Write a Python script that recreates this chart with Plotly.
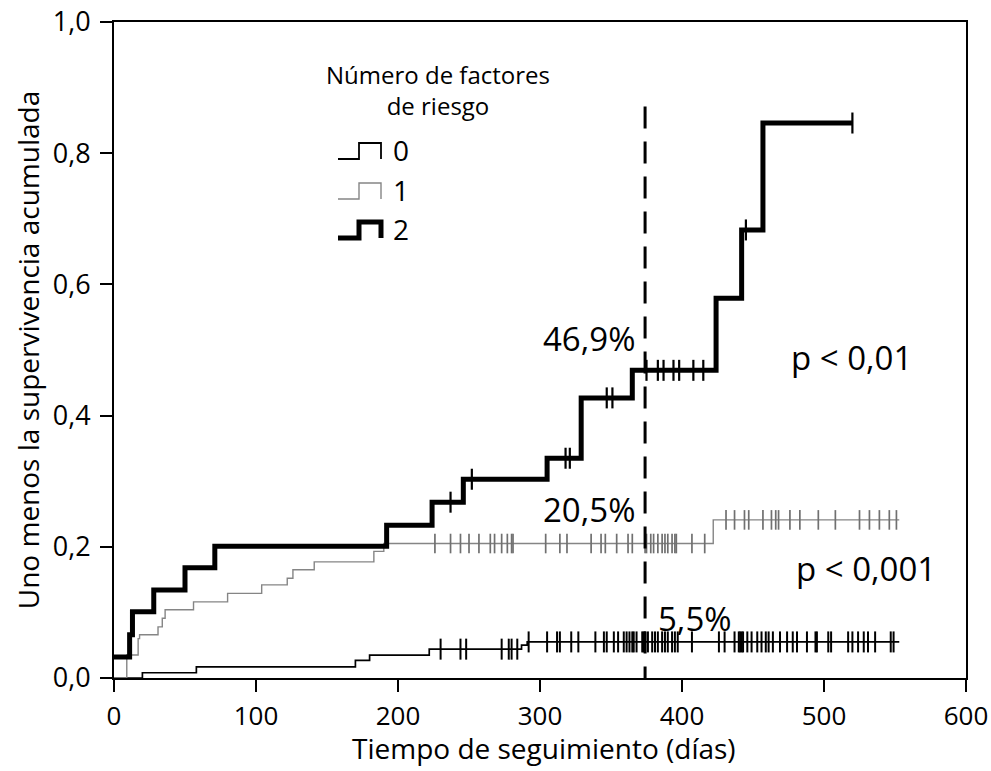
import plotly.graph_objects as go

# ---------------- data ----------------
# Group "0" risk factors : step times (days) and 1 - cumulative survival
t0 = [0, 20, 58, 170, 180, 222, 287, 291, 553]
y0 = [0.0, 0.008, 0.017, 0.027, 0.035, 0.044, 0.050, 0.055, 0.055]
cens0 = [230, 244, 248, 273, 278, 280, 284, 292, 305, 312, 314, 322, 327, 339,
         345, 347, 352, 355, 359, 361, 363, 365, 366, 368, 372, 373, 374, 376,
         379, 381, 383, 386, 388, 390, 393, 395, 397, 407, 426, 430, 437, 440,
         441, 442, 443, 446, 449, 453, 456, 459, 461, 464, 469, 474, 478, 481,
         488, 494, 495, 503, 505, 517, 520, 524, 528, 531, 536, 547, 549]

# Group "1"
t1 = [0, 9, 17, 18, 31, 34, 36, 56, 80, 104, 122, 126, 141, 183, 190, 422, 553]
y1 = [0.0, 0.035, 0.060, 0.066, 0.078, 0.091, 0.104, 0.116, 0.129, 0.142,
      0.152, 0.165, 0.177, 0.193, 0.205, 0.241, 0.241]
cens1 = [226, 237, 244, 250, 257, 265, 268, 273, 277, 280, 281, 304, 314, 319,
         336, 343, 346, 354, 362, 365, 374, 375, 378, 380, 383, 386, 388, 390,
         393, 395, 396, 407, 416, 431, 437, 444, 447, 457, 463, 466, 468, 476,
         483, 496, 508, 525, 532, 539, 546, 551]

# Group "2"
t2 = [0, 11, 13, 28, 50, 71, 192, 224, 246, 305, 329, 365, 424, 442, 457, 520]
y2 = [0.032, 0.066, 0.101, 0.134, 0.168, 0.201, 0.233, 0.268, 0.303, 0.335,
      0.427, 0.469, 0.579, 0.683, 0.846, 0.846]
cens2 = [237, 252, 318, 321, 347, 351, 375, 383, 387, 394, 398, 408, 415, 445, 520]

# reference line (days) and its top value
ref_day = 374
ref_top = 0.871

x_ticks = [0, 100, 200, 300, 400, 500, 600]
x_ticklabels = ["0", "100", "200", "300", "400", "500", "600"]
y_ticks = [0.0, 0.2, 0.4, 0.6, 0.8, 1.0]
y_ticklabels = ["0,0", "0,2", "0,4", "0,6", "0,8", "1,0"]

group_names = ["0", "1", "2"]


def step_value(ts, ys, t):
    v = ys[0]
    for tt, yy in zip(ts, ys):
        if tt <= t:
            v = yy
    return v


FONT = "Open Sans"
GRAY = "#858585"

fig = go.Figure()

styles = [
    (t0, y0, cens0, "black", 1.7, "black", 2.0, 15),
    (t1, y1, cens1, GRAY, 1.4, "#707070", 1.7, 14),
    (t2, y2, cens2, "black", 5.0, "black", 2.2, 15),
]
for name, (ts, ys, cs, col, lw, mcol, mlw, msz) in zip(group_names, styles):
    fig.add_trace(go.Scatter(x=ts, y=ys, mode="lines", line=dict(color=col, width=lw, shape="hv"),
                             showlegend=False, name=name, hoverinfo="skip"))
    fig.add_trace(go.Scatter(x=cs, y=[step_value(ts, ys, c) for c in cs], mode="markers",
                             marker=dict(symbol="line-ns", size=msz, line=dict(color=mcol, width=mlw)),
                             showlegend=False, hoverinfo="skip"))

# dashed reference line
fig.add_trace(go.Scatter(x=[ref_day, ref_day], y=[ref_top, 0], mode="lines",
                         line=dict(color="black", width=3, dash="22px,13px"),
                         showlegend=False, hoverinfo="skip"))

# ---------------- layout ----------------
# plot area in page pixels (body margin removed by post_script)
L, R, T, B = 114, 966, 22, 678
W, H = 991, 771


def px(x):
    return (x - L) / (R - L)


def py(y):
    return (B - y) / (B - T)


fig.update_layout(
    width=W, height=H,
    margin=dict(l=L, r=W - R, t=T, b=H - B, pad=0),
    paper_bgcolor="white", plot_bgcolor="white",
    font=dict(family=FONT, color="black", size=26),
    showlegend=False,
)
fig.update_xaxes(range=[0, 600], tickvals=x_ticks, ticktext=x_ticklabels,
                 ticks="outside", ticklen=12, tickwidth=2, tickcolor="black",
                 showline=True, linewidth=2, linecolor="black", mirror=True,
                 showgrid=False, zeroline=False, ticklabelstandoff=2,
                 ticklabeloverflow="allow",
                 tickfont=dict(size=26), automargin=False)
fig.update_yaxes(range=[0, 1], tickvals=y_ticks, ticktext=y_ticklabels,
                 ticks="outside", ticklen=12, tickwidth=2, tickcolor="black",
                 showline=True, linewidth=2, linecolor="black", mirror=True,
                 showgrid=False, zeroline=False, ticklabelstandoff=4,
                 ticklabeloverflow="allow",
                 tickfont=dict(size=27), automargin=False,
                 title=dict(text="Uno menos la supervivencia acumulada", font=dict(size=28), standoff=5))

# x-axis title
fig.add_annotation(xref="paper", yref="paper", x=px(544), y=py(748),
                   text="Tiempo de seguimiento (días)", showarrow=False,
                   xanchor="center", yanchor="middle", font=dict(size=28))

# annotations (text labels)
ann = [
    dict(x=368, y=0.518, text="46,9%", xanchor="right", yanchor="middle"),
    dict(x=368, y=0.257, text="20,5%", xanchor="right", yanchor="middle"),
    dict(x=382, y=0.091, text="5,5%", xanchor="left", yanchor="middle"),
    dict(x=475, y=0.488, text="p &lt; 0,01", xanchor="left", yanchor="middle"),
    dict(x=479, y=0.167, text="p &lt; 0,001", xanchor="left", yanchor="middle"),
]
for a in ann:
    fig.add_annotation(xref="x", yref="y", showarrow=False, font=dict(size=33), **a)

# legend title
fig.add_annotation(xref="paper", yref="paper", x=px(438), y=py(90), text="Número de factores<br>de riesgo",
                   showarrow=False, xanchor="center", yanchor="middle", align="center",
                   font=dict(size=24))

# legend entries with step-shaped symbols
leg_rows = [(159, 143, "black", 1.8), (199, 183, GRAY, 1.4), (238, 222, "black", 5.0)]
for name, (ylo, yhi, col, lw) in zip(group_names, leg_rows):
    pts = [(338, ylo), (359, ylo), (359, yhi), (381, yhi), (381, ylo)]
    path = "M " + " L ".join(f"{px(a):.5f},{py(b):.5f}" for a, b in pts)
    fig.add_shape(type="path", xref="paper", yref="paper", path=path,
                  line=dict(color=col, width=lw))
    fig.add_annotation(xref="paper", yref="paper", x=px(391), y=py((ylo + yhi) / 2 - 1), text=name,
                       showarrow=False, xanchor="left", yanchor="middle", font=dict(size=28))

fig.write_html("out.html", config={"displayModeBar": False},
               post_script="document.body.style.margin='0';document.body.style.overflow='hidden';")
